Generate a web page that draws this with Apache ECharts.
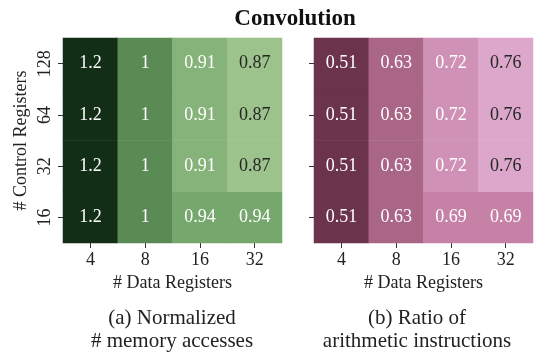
<!doctype html>
<html>
<head>
    <meta charset="UTF-8">
    <title>Convolution</title>
    <script src="https://cdn.jsdelivr.net/npm/echarts@6/dist/echarts.min.js"></script>
    <style>
        html, body { margin: 0; padding: 0; background: #fff; }
        #main { width: 537px; height: 353px; }
    </style>
</head>
<body>
<div id="main"></div>
<script>
    var dataRegs = ['4', '8', '16', '32'];
    var ctrlRegs = ['16', '32', '64', '128'];   // bottom to top

    // one row per control-register count, columns follow dataRegs
    var memAccess = [
        [1.2, 1, 0.94, 0.94],
        [1.2, 1, 0.91, 0.87],
        [1.2, 1, 0.91, 0.87],
        [1.2, 1, 0.91, 0.87]
    ];
    var arithRatio = [
        [0.51, 0.63, 0.69, 0.69],
        [0.51, 0.63, 0.72, 0.76],
        [0.51, 0.63, 0.72, 0.76],
        [0.51, 0.63, 0.72, 0.76]
    ];

    var font = 'Liberation Serif';

    // dark text on the lightest cells, white elsewhere
    var toCells = function (rows, isDark) {
        var out = [];
        rows.forEach(function (row, y) {
            row.forEach(function (v, x) {
                out.push({
                    value: [x, y, v],
                    label: { color: isDark(v) ? '#262626' : '#fff' }
                });
            });
        });
        return out;
    };

    var xAxis = function (grid) {
        return {
            type: 'category', gridIndex: grid, data: dataRegs,
            name: '# Data Registers', nameLocation: 'middle', nameGap: 31,
            nameTextStyle: { fontFamily: font, fontSize: 18, color: '#222' },
            axisLine: { show: false },
            axisTick: { show: true, alignWithLabel: true, length: 5, lineStyle: { color: '#333' } },
            axisLabel: { fontFamily: font, fontSize: 18, color: '#222', margin: 8 },
            splitArea: { show: false }
        };
    };

    var yAxis = function (grid, labels) {
        return {
            type: 'category', gridIndex: grid, data: ctrlRegs,
            name: labels ? '# Control Registers' : '', nameLocation: 'middle', nameGap: 33,
            nameTextStyle: { fontFamily: font, fontSize: 18, color: '#222' },
            axisLine: { show: false },
            axisTick: { show: true, alignWithLabel: true, length: 5, lineStyle: { color: '#333' } },
            axisLabel: { show: labels, rotate: 90, fontFamily: font, fontSize: 18, color: '#222', margin: 9 }
        };
    };

    var myChart = echarts.init(document.getElementById('main'));

    var option = {
        animation: false,
        title: [
            {
                text: 'Convolution', left: 290, top: 3, textAlign: 'center',
                textStyle: { fontFamily: font, fontSize: 23, fontWeight: 'bold', color: '#111' }
            },
            {
                text: '(a) Normalized\n# memory accesses', left: 167, top: 302, textAlign: 'center',
                textStyle: { fontFamily: font, fontSize: 21, fontWeight: 'normal', color: '#222', lineHeight: 23 }
            },
            {
                text: '(b) Ratio of\narithmetic instructions', left: 412, top: 302, textAlign: 'center',
                textStyle: { fontFamily: font, fontSize: 21, fontWeight: 'normal', color: '#222', lineHeight: 23 }
            }
        ],
        grid: [
            { left: 63, top: 38, width: 219, height: 205 },
            { left: 314, top: 38, width: 219, height: 205 }
        ],
        xAxis: [xAxis(0), xAxis(1)],
        yAxis: [yAxis(0, true), yAxis(1, false)],
        visualMap: [
            {
                type: 'continuous', show: false, seriesIndex: 0, dimension: 2,
                min: 0.87, max: 1.2,
                inRange: { color: ['#9cc38c', '#6fa267', '#4a7a47', '#2d5430', '#132e16'] }
            },
            {
                type: 'continuous', show: false, seriesIndex: 1, dimension: 2,
                min: 0.51, max: 0.76,
                inRange: { color: ['#6b334c', '#8c4c6a', '#ad6889', '#c886aa', '#dca7cb'] }
            }
        ],
        series: [
            {
                type: 'heatmap', xAxisIndex: 0, yAxisIndex: 0,
                data: toCells(memAccess, function (v) { return v < 0.9; }),
                label: {
                    show: true, fontFamily: font, fontSize: 18,
                    formatter: function (p) { return p.value[2]; }
                },
                emphasis: { disabled: true }
            },
            {
                type: 'heatmap', xAxisIndex: 1, yAxisIndex: 1,
                data: toCells(arithRatio, function (v) { return v > 0.74; }),
                label: {
                    show: true, fontFamily: font, fontSize: 18,
                    formatter: function (p) { return p.value[2]; }
                },
                emphasis: { disabled: true }
            }
        ]
    };

    myChart.setOption(option);
</script>
</body>
</html>
